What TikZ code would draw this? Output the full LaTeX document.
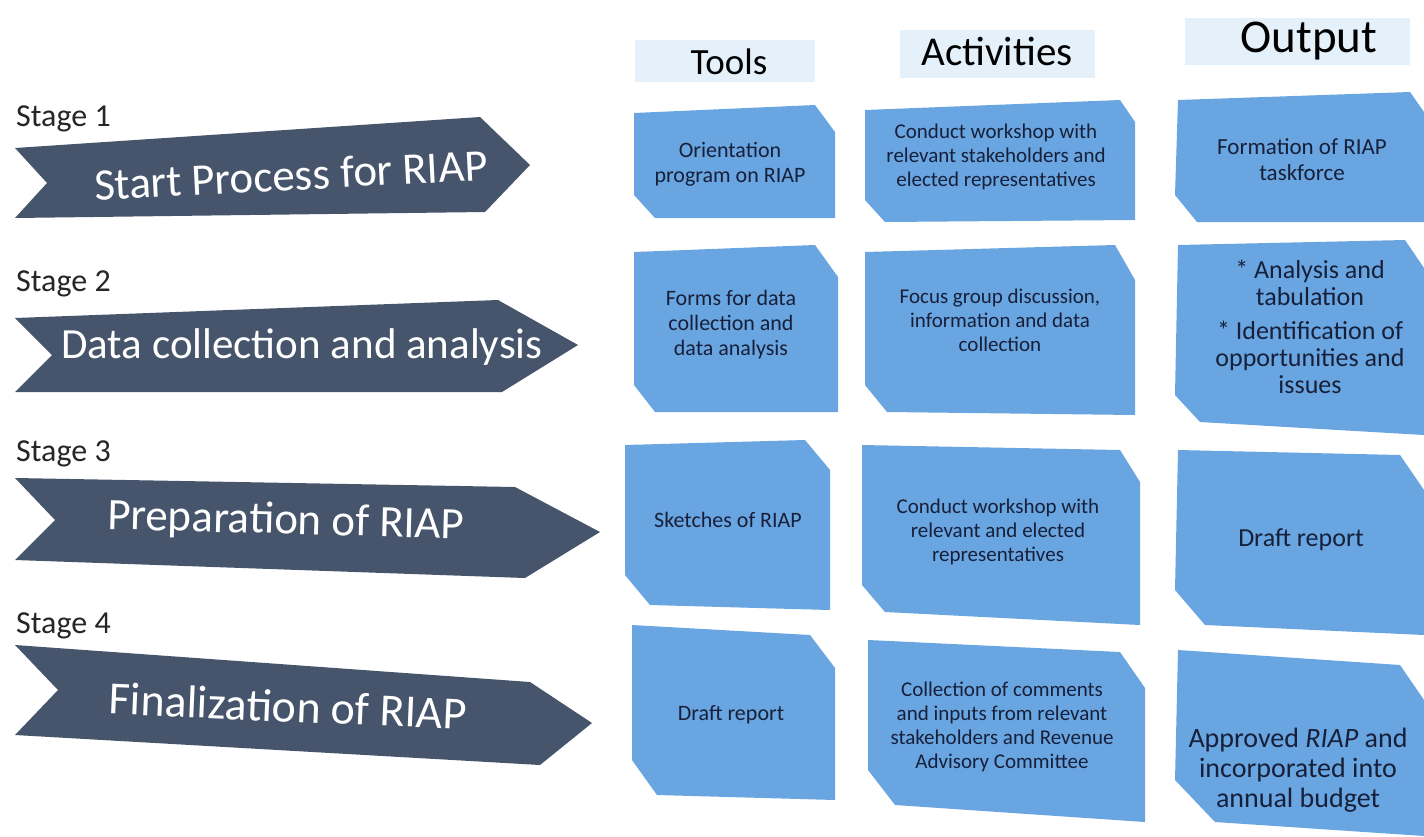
\documentclass[tikz,border=0pt]{standalone}
\usepackage{fontspec}
\setmainfont{Carlito}
\definecolor{chev}{HTML}{46556C}
\definecolor{boxc}{HTML}{69A5E0}
\definecolor{hdr}{HTML}{E4F1FB}
\definecolor{ink}{HTML}{17203A}
\begin{document}
\begin{tikzpicture}[x=1pt,y=-1pt,
  chevron/.style={fill=chev},
  cellbox/.style={fill=boxc},
  hdrbox/.style={fill=hdr},
  stagelbl/.style={anchor=west,font=\fontsize{32}{34}\selectfont,text=black!85,inner sep=0pt},
  chevtxt/.style={text=white,inner sep=0pt},
  hdrtxt/.style={text=black,inner sep=0pt},
  celltxt/.style={text=ink,align=center,inner sep=0pt}]
\useasboundingbox[fill=white] (0,0) rectangle (1424,836);

% headers
\fill[hdrbox] (635,40) rectangle (815,82);
\fill[hdrbox] (900,30) rectangle (1095,78);
\fill[hdrbox] (1185,18) rectangle (1410,65);
\node[hdrtxt,font=\fontsize{37}{39}\selectfont] (hTools) at (729,62) {Tools};
\node[hdrtxt,font=\fontsize{41}{43}\selectfont] (hAct) at (997,51) {Activities};
\node[hdrtxt,font=\fontsize{47}{49}\selectfont] (hOut) at (1309,41) {Output};

% chevrons
\fill[chevron] (15,148) -- (480,117) -- (530,165) -- (485,212) -- (15,218) -- (47,183) -- cycle;
\fill[chevron] (15,318) -- (498,300) -- (578,345) -- (502,392) -- (15,392) -- (52,355) -- cycle;
\fill[chevron] (15,478) -- (515,487) -- (600,532) -- (525,578) -- (15,560) -- (55,520) -- cycle;
\fill[chevron] (15,645) -- (530,682) -- (592,723) -- (540,765) -- (15,735) -- (58,690) -- cycle;

\node[stagelbl] (s1) at (16,119) {Stage 1};
\node[stagelbl] (s2) at (16,284) {Stage 2};
\node[stagelbl] (s3) at (16,454) {Stage 3};
\node[stagelbl] (s4) at (16,626) {Stage 4};

\node[chevtxt,font=\fontsize{45}{47}\selectfont,rotate=3] (c1) at (291,175) {Start Process for RIAP};
\node[chevtxt,font=\fontsize{43}{45}\selectfont] (c2) at (302,347) {Data collection and analysis};
\node[chevtxt,font=\fontsize{45}{47}\selectfont,rotate=-1.5] (c3) at (286,522) {Preparation of RIAP};
\node[chevtxt,font=\fontsize{46}{48}\selectfont,rotate=-2.5] (c4) at (288,706) {Finalization of RIAP};

% tools column
\fill[cellbox] (634,113) -- (815,105) -- (835,132) -- (835,218) -- (655,218) -- (634,195) -- cycle;
\fill[cellbox] (634,252) -- (815,245) -- (838,277) -- (838,412) -- (655,412) -- (634,385) -- cycle;
\fill[cellbox] (625,445) -- (805,440) -- (830,470) -- (830,610) -- (650,605) -- (625,575) -- cycle;
\fill[cellbox] (632,625) -- (810,635) -- (835,668) -- (835,800) -- (657,795) -- (632,760) -- cycle;

% activities column
\fill[cellbox] (865,110) -- (1120,100) -- (1135,122) -- (1135,220) -- (885,222) -- (865,200) -- cycle;
\fill[cellbox] (865,252) -- (1115,245) -- (1135,280) -- (1135,415) -- (887,412) -- (865,385) -- cycle;
\fill[cellbox] (862,445) -- (1120,450) -- (1140,482) -- (1140,625) -- (885,612) -- (862,585) -- cycle;
\fill[cellbox] (868,640) -- (1120,652) -- (1145,688) -- (1145,822) -- (895,805) -- (868,770) -- cycle;

% output column
\fill[cellbox] (1178,100) -- (1410,92) -- (1424,112) -- (1424,222) -- (1197,222) -- (1175,195) -- cycle;
\fill[cellbox] (1178,245) -- (1405,240) -- (1424,268) -- (1424,435) -- (1200,422) -- (1175,395) -- cycle;
\fill[cellbox] (1178,450) -- (1400,455) -- (1424,490) -- (1424,635) -- (1205,625) -- (1175,590) -- cycle;
\fill[cellbox] (1178,650) -- (1400,665) -- (1424,700) -- (1424,836) -- (1215,822) -- (1175,780) -- cycle;

% cell texts
\node[celltxt,font=\fontsize{22}{25}\selectfont] (t1) at (730,164) {Orientation\\program on RIAP};
\node[celltxt,font=\fontsize{22}{25}\selectfont] (t2) at (731,325) {Forms for data\\collection and\\data analysis};
\node[celltxt,font=\fontsize{22}{25}\selectfont] (t3) at (728,520) {Sketches of RIAP};
\node[celltxt,font=\fontsize{22}{25}\selectfont] (t4) at (731,715) {Draft report};

\node[celltxt,font=\fontsize{21}{24}\selectfont] (a1) at (996,157) {Conduct workshop with\\relevant stakeholders and\\elected representatives};
\node[celltxt,font=\fontsize{21}{24}\selectfont] (a2) at (1000,320) {Focus group discussion,\\information and data\\collection};
\node[celltxt,font=\fontsize{21}{24}\selectfont] (a3) at (998,532) {Conduct workshop with\\relevant and elected\\representatives};
\node[celltxt,font=\fontsize{21}{24}\selectfont] (a4) at (1002,727) {Collection of comments\\and inputs from relevant\\stakeholders and Revenue\\Advisory Committee};

\node[celltxt,font=\fontsize{23}{26}\selectfont] (o1) at (1302,160) {Formation of RIAP\\taskforce};
\node[celltxt,font=\fontsize{26}{27}\selectfont] (o2a) at (1310,283) {* Analysis and\\tabulation};
\node[celltxt,font=\fontsize{26}{27}\selectfont] (o2b) at (1310,357) {* Identification of\\opportunities and\\issues};
\node[celltxt,font=\fontsize{26}{28}\selectfont] (o3) at (1301,540) {Draft report};
\node[celltxt,font=\fontsize{28}{30}\selectfont] (o4) at (1298,770) {Approved \textit{RIAP} and\\incorporated into\\annual budget};
\end{tikzpicture}
\end{document}
